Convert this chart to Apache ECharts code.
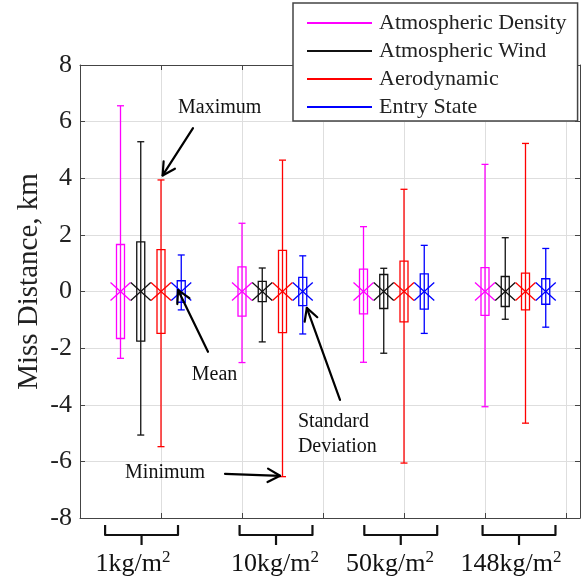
<!DOCTYPE html>
<html>
<head>
<meta charset="utf-8">
<script src="https://cdn.jsdelivr.net/npm/echarts@6/dist/echarts.min.js"></script>
<style>html,body{margin:0;padding:0;background:#fff}#c{width:581px;height:579px}</style>
</head>
<body>
<div id="c"></div>
<script>
// ---- data ----
const categories = ['1', '10', '50', '148'];
const unitText = 'kg/m';
const seriesNames = ['Atmospheric Density', 'Atmospheric Wind', 'Aerodynamic', 'Entry State'];

const densityMean = [0, 0, 0, 0];
const densityStd  = [1.66, 0.87, 0.79, 0.84];
const densityMin  = [-2.36, -2.51, -2.50, -4.07];
const densityMax  = [6.56, 2.41, 2.29, 4.49];

const windMean = [0, 0, 0, 0];
const windStd  = [1.75, 0.36, 0.60, 0.53];
const windMin  = [-5.07, -1.78, -2.18, -0.98];
const windMax  = [5.29, 0.83, 0.82, 1.90];

const aeroMean = [0, 0, 0, 0];
const aeroStd  = [1.48, 1.45, 1.07, 0.65];
const aeroMin  = [-5.48, -6.54, -6.06, -4.65];
const aeroMax  = [3.94, 4.64, 3.61, 5.23];

const entryMean = [0, 0, 0, 0];
const entryStd  = [0.38, 0.50, 0.62, 0.45];
const entryMin  = [-0.65, -1.50, -1.48, -1.26];
const entryMax  = [1.29, 1.26, 1.63, 1.52];

const yTicks = [-8, -6, -4, -2, 0, 2, 4, 6, 8];

// annotations
const annotTexts = ['Maximum', 'Mean', 'Minimum', 'Standard\nDeviation'];

// ---- layout (not data) ----
const groupStart = 0.5, groupStep = 1.5, seriesStep = 0.25;
const braceCenters = [0.76, 2.42, 3.96, 5.42];
const braceHalf = 0.45;
const labelCenters = [0.654, 2.407, 3.827, 5.32];
const annotTextPos = [[1.21, 6.48], [1.38, -2.95], [0.556, -6.4], [2.69, -5.05]];
const arrowFrom = [[1.395, 5.77], [1.58, -2.13], [1.79, -6.44], [3.21, -3.83]];
const arrowTo = [[1.02, 4.10], [1.21, 0.05], [2.47, -6.51], [2.80, -0.58]];
const colors = ['#ff00ff', '#111111', '#ff0000', '#0000ff'];
const FONT = '"Liberation Serif", "Times New Roman", serif';

const seriesStats = [
  [densityMean, densityStd, densityMin, densityMax],
  [windMean, windStd, windMin, windMax],
  [aeroMean, aeroStd, aeroMin, aeroMax],
  [entryMean, entryStd, entryMin, entryMax]
];

function renderBox(params, api) {
  const x = api.value(0), mean = api.value(1), sd = api.value(2), lo = api.value(3), hi = api.value(4);
  const pM = api.coord([x, mean]), pH = api.coord([x, hi]), pL = api.coord([x, lo]);
  const pT = api.coord([x, mean + sd]), pB = api.coord([x, mean - sd]);
  const c = api.visual('color');
  const st = {stroke: c, lineWidth: 1.3, fill: null};
  const cap = 3.5, bw = 4, xw = 10, xh = 9;
  return {type: 'group', children: [
    {type: 'line', shape: {x1: pH[0], y1: pH[1], x2: pL[0], y2: pL[1]}, style: st},
    {type: 'line', shape: {x1: pH[0]-cap, y1: pH[1], x2: pH[0]+cap, y2: pH[1]}, style: st},
    {type: 'line', shape: {x1: pL[0]-cap, y1: pL[1], x2: pL[0]+cap, y2: pL[1]}, style: st},
    {type: 'rect', shape: {x: pT[0]-bw, y: pT[1], width: 2*bw, height: pB[1]-pT[1]}, style: st},
    {type: 'line', shape: {x1: pM[0]-xw, y1: pM[1]-xh, x2: pM[0]+xw, y2: pM[1]+xh}, style: st},
    {type: 'line', shape: {x1: pM[0]-xw, y1: pM[1]+xh, x2: pM[0]+xw, y2: pM[1]-xh}, style: st}
  ]};
}

const series = seriesNames.map((name, s) => {
  const [mn, sd, lo, hi] = seriesStats[s];
  return {
    name, type: 'custom', renderItem: renderBox,
    itemStyle: {color: colors[s]},
    encode: {x: 0, y: [3, 4]},
    data: categories.map((c, g) => [groupStart + g*groupStep + s*seriesStep, mn[g], sd[g], lo[g], hi[g]]),
    z: 3, silent: true
  };
});

// braces + category labels
series.push({
  type: 'custom', silent: true, z: 5,
  renderItem: function (params, api) {
    const i = params.dataIndex;
    const pc = api.coord([braceCenters[i], -8]);
    const pl = api.coord([braceCenters[i] - braceHalf, -8]);
    const pr = api.coord([braceCenters[i] + braceHalf, -8]);
    const pt = api.coord([labelCenters[i], -8]);
    const y0 = pc[1];
    const st = {stroke: '#111', lineWidth: 2.2, fill: null, lineJoin: 'round'};
    return {type: 'group', children: [
      {type: 'polyline', shape: {points: [[pl[0], y0+7], [pl[0], y0+17], [pr[0], y0+17], [pr[0], y0+7]]}, style: st},
      {type: 'line', shape: {x1: pc[0], y1: y0+17, x2: pc[0], y2: y0+27}, style: st},
      {type: 'text', x: pt[0], y: y0+46, style: {
        text: categories[i] + unitText + '{s|2}', fill: '#111', fontSize: 26, fontFamily: FONT,
        align: 'center', verticalAlign: 'middle',
        rich: {s: {fontSize: 17, fontFamily: FONT, fill: '#111', verticalAlign: 'top', lineHeight: 30}}
      }}
    ]};
  },
  data: categories.map((c, i) => [braceCenters[i], -8])
});

// annotations
series.push({
  type: 'custom', silent: true, z: 6,
  renderItem: function (params, api) {
    const i = params.dataIndex;
    const pt = api.coord(annotTextPos[i]);
    const pf = api.coord(arrowFrom[i]);
    const pa = api.coord(arrowTo[i]);
    const dx = pa[0]-pf[0], dy = pa[1]-pf[1], L = Math.hypot(dx, dy);
    const ux = dx/L, uy = dy/L, hl = 14, ang = 0.5;
    const h1 = [pa[0] - hl*(ux*Math.cos(ang) - uy*Math.sin(ang)), pa[1] - hl*(uy*Math.cos(ang) + ux*Math.sin(ang))];
    const h2 = [pa[0] - hl*(ux*Math.cos(-ang) - uy*Math.sin(-ang)), pa[1] - hl*(uy*Math.cos(-ang) + ux*Math.sin(-ang))];
    const st = {stroke: '#000', lineWidth: 2.2, fill: null, lineCap: 'round', lineJoin: 'round'};
    return {type: 'group', children: [
      {type: 'line', shape: {x1: pf[0], y1: pf[1], x2: pa[0], y2: pa[1]}, style: st},
      {type: 'polyline', shape: {points: [h1, pa, h2]}, style: st},
      {type: 'text', x: pt[0], y: pt[1], style: {text: annotTexts[i], fill: '#111', fontSize: 20, fontFamily: FONT, lineHeight: 25, align: 'left', verticalAlign: 'middle'}}
    ]};
  },
  data: annotTexts.map((t, i) => [arrowTo[i][0], arrowTo[i][1]])
});

const axisLine = {show: true, onZero: false, lineStyle: {color: '#444', width: 1}};
const xMax = 500/81;
const chart = echarts.init(document.getElementById('c'), null, {renderer: 'canvas'});
chart.setOption({
  animation: false,
  backgroundColor: '#fff',
  grid: {left: 80, top: 65, right: 1, bottom: 61, show: false},
  legend: {
    data: seriesNames, orient: 'vertical', left: 293, top: 3,
    icon: 'rect', itemWidth: 65, itemHeight: 2, itemGap: 0,
    padding: [6, 11, 0, 14], backgroundColor: '#fff', borderColor: '#444', borderWidth: 1.5,
    textStyle: {fontSize: 22, fontFamily: FONT, color: '#222', lineHeight: 28, padding: [0, 0, 0, 2]},
    selectedMode: false, z: 10
  },
  xAxis: [
    {type: 'value', min: 0, max: xMax, interval: 1, axisLine, axisTick: {show: true, inside: true, length: 5, lineStyle: {color: '#444'}},
     axisLabel: {show: false}, splitLine: {show: true, lineStyle: {color: '#dedede', width: 1}}},
    {type: 'value', position: 'top', min: 0, max: xMax, interval: 1, axisLine, axisTick: {show: true, inside: true, length: 5, lineStyle: {color: '#444'}},
     axisLabel: {show: false}, splitLine: {show: false}}
  ],
  yAxis: [
    {type: 'value', min: yTicks[0], max: yTicks[yTicks.length-1], interval: 2, axisLine,
     axisTick: {show: true, inside: true, length: 5, lineStyle: {color: '#444'}},
     axisLabel: {fontSize: 26, fontFamily: FONT, color: '#222', margin: 8},
     splitLine: {show: true, lineStyle: {color: '#dedede', width: 1}},
     name: 'Miss Distance, km', nameLocation: 'middle', nameGap: 36, nameMoveOverlap: false,
     nameTextStyle: {fontSize: 29, fontFamily: FONT, color: '#222', padding: [0, 0, 0, 20]}},
    {type: 'value', position: 'right', min: yTicks[0], max: yTicks[yTicks.length-1], interval: 2, axisLine,
     axisTick: {show: true, inside: true, length: 5, lineStyle: {color: '#444'}},
     axisLabel: {show: false}, splitLine: {show: false}}
  ],
  series
});
</script>
</body>
</html>
